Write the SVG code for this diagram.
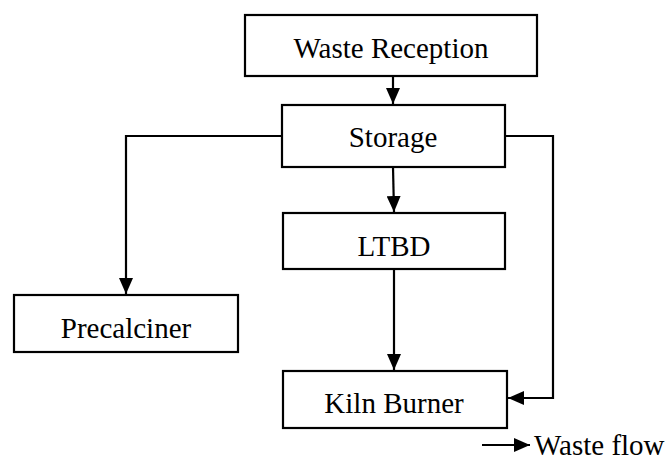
<svg xmlns="http://www.w3.org/2000/svg" width="666" height="460" viewBox="0 0 666 460">
<defs>
  <marker id="ah" markerUnits="userSpaceOnUse" markerWidth="16" markerHeight="14" viewBox="0 0 16 14" refX="16" refY="7" orient="auto">
    <path d="M0,0 L16,7 L0,14 Z" fill="#000"/>
  </marker>
</defs>
<rect width="666" height="460" fill="#fff"/>
<g id="connectors" fill="none" stroke="#000" stroke-width="2.2">
  <path d="M393,76 L393,104" marker-end="url(#ah)"/>
  <path d="M282,136 L126,136 L126,294" marker-end="url(#ah)"/>
  <path d="M393,167 L394,212" marker-end="url(#ah)"/>
  <path d="M394,269 L394,370" marker-end="url(#ah)"/>
  <path d="M505,136 L553,136 L553,398 L508,398" marker-end="url(#ah)"/>
</g>
<g id="waste-reception">
  <rect x="245" y="15" width="292" height="61" fill="#fff" stroke="#000" stroke-width="2.2"/>
  <text x="391" y="58" font-family="Liberation Serif" font-size="29" text-anchor="middle">Waste Reception</text>
</g>
<g id="storage">
  <rect x="282" y="105" width="223" height="62" fill="#fff" stroke="#000" stroke-width="2.2"/>
  <text x="393" y="147" font-family="Liberation Serif" font-size="29" text-anchor="middle">Storage</text>
</g>
<g id="ltbd">
  <rect x="283" y="213" width="222" height="56" fill="#fff" stroke="#000" stroke-width="2.2"/>
  <text x="394" y="256" font-family="Liberation Serif" font-size="29" text-anchor="middle">LTBD</text>
</g>
<g id="precalciner">
  <rect x="14" y="295" width="224" height="57" fill="#fff" stroke="#000" stroke-width="2.2"/>
  <text x="126" y="338" font-family="Liberation Serif" font-size="29" text-anchor="middle">Precalciner</text>
</g>
<g id="kiln-burner">
  <rect x="283" y="371" width="224" height="57" fill="#fff" stroke="#000" stroke-width="2.2"/>
  <text x="394" y="413" font-family="Liberation Serif" font-size="29" text-anchor="middle">Kiln Burner</text>
</g>
<g id="legend">
  <path d="M482,445 L530,445" fill="none" stroke="#000" stroke-width="2.2" marker-end="url(#ah)"/>
  <text x="534" y="455" font-family="Liberation Serif" font-size="29">Waste flow</text>
</g>
</svg>
